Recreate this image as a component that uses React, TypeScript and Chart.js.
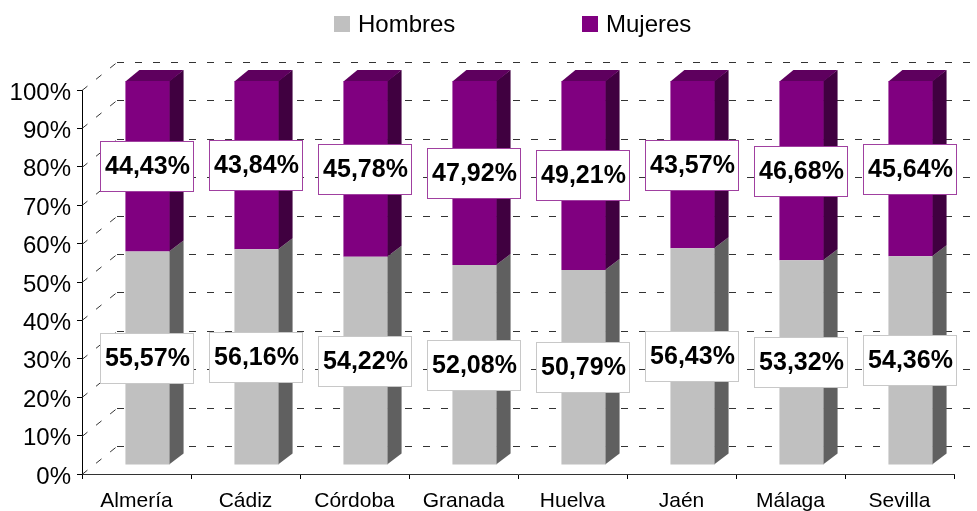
import React, { useEffect, useRef } from 'react';
import { Chart, registerables } from 'chart.js';

Chart.register(...registerables);

const categories = ['Almería', 'Cádiz', 'Córdoba', 'Granada', 'Huelva', 'Jaén', 'Málaga', 'Sevilla'];
const hombres = [55.57, 56.16, 54.22, 52.08, 50.79, 56.43, 53.32, 54.36];
const mujeres = [44.43, 43.84, 45.78, 47.92, 49.21, 43.57, 46.68, 45.64];
const yTicks = [0, 10, 20, 30, 40, 50, 60, 70, 80, 90, 100];
const seriesNames = ['Hombres', 'Mujeres'];

const FONT = "'Liberation Sans', Arial, Helvetica, sans-serif";
const FRONT = ['#C0C0C0', '#800080'];
const SIDE = ['#606060', '#400040'];
const TOP = ['#8C8C8C', '#5E005E'];
const LABEL_BORDER = ['#C8C8C8', '#A040A0'];

// oblique 3D offsets
const OX = 11, OY = -9;   // bar front face pushed into depth
const BX = 14, BY = -11;  // bar depth
const WX = 35, WY = -28;  // back wall depth

const fmt = (v: number) => v.toFixed(2).replace('.', ',') + '%';

const threeD = {
  id: 'threeD',
  beforeDatasetsDraw(chart: any) {
    const { ctx, chartArea } = chart;
    const ys = chart.scales.y;
    ctx.save();
    ctx.strokeStyle = '#333333';
    ctx.lineWidth = 1;
    ctx.setLineDash([7, 11]);
    for (const v of yTicks) {
      const yf = Math.round(ys.getPixelForValue(v)) + 0.5;
      ctx.beginPath();
      ctx.moveTo(chartArea.left, yf);
      ctx.lineTo(chartArea.left + WX, yf + WY);
      ctx.stroke();
      ctx.beginPath();
      ctx.moveTo(chartArea.left + WX, yf + WY);
      ctx.lineTo(chart.width, yf + WY);
      ctx.stroke();
    }
    ctx.setLineDash([]);
    const n = chart.data.datasets.length;
    chart.data.datasets.forEach((_ds: any, di: number) => {
      const meta = chart.getDatasetMeta(di);
      meta.data.forEach((el: any) => {
        const { x, y, base, width } = el.getProps(['x', 'y', 'base', 'width'], true);
        const l = x - width / 2 + OX;
        const r = x + width / 2 + OX;
        const t = y + OY;
        const b = base + OY;
        ctx.fillStyle = SIDE[di];
        ctx.beginPath();
        ctx.moveTo(r - 0.5, t);
        ctx.lineTo(r + BX, t + BY);
        ctx.lineTo(r + BX, b + BY);
        ctx.lineTo(r - 0.5, b);
        ctx.closePath();
        ctx.fill();
        if (di === n - 1) {
          ctx.fillStyle = TOP[di];
          ctx.beginPath();
          ctx.moveTo(l, t + 0.5);
          ctx.lineTo(l + BX, t + BY);
          ctx.lineTo(r + BX, t + BY);
          ctx.lineTo(r, t + 0.5);
          ctx.closePath();
          ctx.fill();
        }
      });
    });
    ctx.restore();
    ctx.save();
    ctx.translate(OX, OY);
  },
  afterDatasetsDraw(chart: any) {
    const { ctx } = chart;
    ctx.restore();
    ctx.save();
    ctx.font = `bold 25px ${FONT}`;
    ctx.textAlign = 'center';
    ctx.textBaseline = 'middle';
    chart.data.datasets.forEach((ds: any, di: number) => {
      const meta = chart.getDatasetMeta(di);
      meta.data.forEach((el: any, i: number) => {
        const { x, y, base } = el.getProps(['x', 'y', 'base'], true);
        const cx = x + OX;
        const cy = (y + base) / 2 + OY;
        const txt = fmt(ds.data[i]);
        const w = Math.round(ctx.measureText(txt).width + 8);
        const h = 50;
        const bx = Math.round(cx - 1 - w / 2) + 0.5;
        const by = Math.round(cy - h / 2) + 0.5;
        ctx.fillStyle = '#FFFFFF';
        ctx.fillRect(bx, by, w, h);
        ctx.strokeStyle = LABEL_BORDER[di];
        ctx.lineWidth = 1;
        ctx.strokeRect(bx, by, w, h);
        ctx.fillStyle = '#000000';
        ctx.fillText(txt, cx, cy + 1);
      });
    });
    ctx.restore();
  },
  afterDraw(chart: any) {
    const { ctx } = chart;
    ctx.save();
    ctx.font = `24px ${FONT}`;
    ctx.textBaseline = 'alphabetic';
    ctx.textAlign = 'left';
    const legendX = [334, 582];
    chart.data.datasets.forEach((ds: any, di: number) => {
      const lx = legendX[di];
      ctx.fillStyle = FRONT[di];
      ctx.fillRect(lx, 16, 16, 16);
      ctx.fillStyle = '#000000';
      ctx.fillText(ds.label, lx + 24, 32);
    });
    ctx.restore();
  },
};

export default function App() {
  const ref = useRef<HTMLCanvasElement>(null);
  useEffect(() => {
    document.body.style.margin = '0';
    const canvas = ref.current;
    if (!canvas) return;
    const chart = new Chart(canvas, {
      type: 'bar',
      data: {
        labels: categories,
        datasets: [
          {
            label: seriesNames[0],
            data: hombres,
            backgroundColor: FRONT[0],
            borderWidth: 0,
            categoryPercentage: 1,
            barPercentage: 0.405,
            clip: false as any,
          },
          {
            label: seriesNames[1],
            data: mujeres,
            backgroundColor: FRONT[1],
            borderWidth: 0,
            categoryPercentage: 1,
            barPercentage: 0.405,
            clip: false as any,
          },
        ],
      },
      options: {
        animation: false,
        responsive: false,
        devicePixelRatio: 1,
        layout: { padding: { top: 90, right: 23, left: 0, bottom: 0 } },
        plugins: {
          legend: { display: false },
          tooltip: { enabled: false },
        },
        scales: {
          x: {
            stacked: true,
            grid: {
              display: true,
              drawOnChartArea: false,
              drawTicks: true,
              tickLength: 5,
              color: '#000000',
              offset: true,
            },
            border: { display: true, color: '#333333' },
            ticks: {
              font: { size: 21, family: FONT },
              color: '#000000',
              padding: 10,
              maxRotation: 0,
              autoSkip: false,
            },
            afterFit: (s: any) => {
              s.height = 37;
            },
          },
          y: {
            stacked: true,
            min: 0,
            max: 100,
            afterBuildTicks: (s: any) => {
              s.ticks = yTicks.map((v) => ({ value: v }));
            },
            ticks: {
              callback: (v: any) => v + '%',
              font: { size: 24, family: FONT },
              color: '#000000',
              padding: 6,
              labelOffset: 3,
            },
            grid: {
              display: true,
              drawOnChartArea: false,
              drawTicks: true,
              tickLength: 5,
              color: '#000000',
            },
            border: { display: true, color: '#000000' },
            afterFit: (s: any) => {
              s.width = 82;
            },
          },
        },
      },
      plugins: [threeD],
    });
    return () => chart.destroy();
  }, []);
  return (
    <div style={{ width: 977, height: 511 }}>
      <canvas ref={ref} width={977} height={511} style={{ display: 'block' }} />
    </div>
  );
}
